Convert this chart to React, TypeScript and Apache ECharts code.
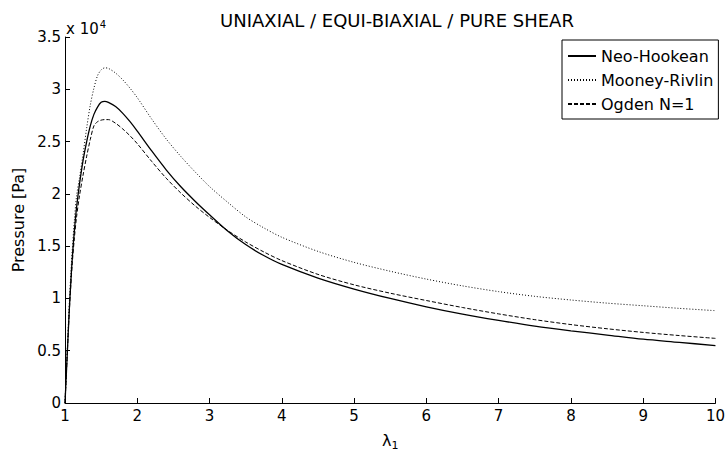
import React, { useEffect, useRef } from "react";
import * as echarts from "echarts";

const lambda = [1, 1.02, 1.04, 1.06, 1.08, 1.1, 1.13, 1.16, 1.2, 1.25, 1.3, 1.35, 1.4, 1.45, 1.5, 1.55, 1.6, 1.7, 1.8, 1.9, 2.0, 2.2, 2.4, 2.6, 2.8, 3.0, 3.25, 3.5, 3.75, 4.0, 4.5, 5.0, 5.5, 6.0, 6.5, 7.0, 7.5, 8.0, 8.5, 9.0, 9.5, 10];

const neoHookean = [0, 3000, 6000, 9000, 11500, 13800, 16500, 18700, 20900, 23200, 25000, 26500, 27600, 28300, 28750, 28850, 28750, 28350, 27700, 26900, 26000, 24100, 22300, 20700, 19300, 18000, 16450, 15150, 14100, 13250, 11950, 10900, 10000, 9200, 8500, 7900, 7350, 6900, 6500, 6100, 5800, 5490];

const mooneyRivlin = [0, 3200, 6400, 9600, 12300, 14600, 17500, 19800, 21500, 23800, 26300, 28500, 30100, 31300, 31850, 32050, 32000, 31550, 30900, 30100, 29200, 27150, 25250, 23600, 22100, 20700, 19200, 17800, 16750, 15850, 14500, 13450, 12600, 11850, 11200, 10650, 10200, 9850, 9550, 9300, 9050, 8830];

const ogden = [0, 3000, 6000, 8800, 11200, 13300, 15800, 17800, 19800, 21800, 23600, 25200, 26500, 26900, 27050, 27100, 27100, 26750, 26200, 25550, 24800, 23100, 21500, 20100, 18850, 17750, 16500, 15400, 14450, 13620, 12300, 11300, 10500, 9800, 9130, 8520, 7970, 7500, 7100, 6750, 6450, 6180];

const seriesNames = ["Neo-Hookean", "Mooney-Rivlin", "Ogden N=1"];
const yTickValues = [0, 5000, 10000, 15000, 20000, 25000, 30000, 35000];

const FONT = "DejaVu Sans";

function pairs(ys: number[]) {
  return lambda.map((x, i) => [x, ys[i]]);
}

export default function App() {
  const ref = useRef<HTMLDivElement>(null);
  useEffect(() => {
    if (!ref.current) return;
    const chart = echarts.init(ref.current, undefined, { renderer: "svg" });
    chart.setOption({
      animation: false,
      backgroundColor: "#ffffff",
      textStyle: { fontFamily: FONT, color: "#000" },
      title: {
        text: "UNIAXIAL / EQUI-BIAXIAL / PURE SHEAR",
        left: 392,
        textAlign: "center",
        top: 6,
        textStyle: { fontFamily: FONT, fontSize: 18, fontWeight: "normal", color: "#000" },
      },
      grid: { left: 65, right: 9, top: 37, bottom: 45, containLabel: false },
      legend: {
        data: seriesNames,
        orient: "vertical",
        left: 562,
        top: 40,
        backgroundColor: "#fff",
        borderColor: "#000",
        borderWidth: 1,
        padding: [8, 5, 7, 5],
        itemWidth: 28,
        itemHeight: 14,
        itemGap: 8,
        itemStyle: { opacity: 0 },
        textStyle: { fontFamily: FONT, fontSize: 16, color: "#000", lineHeight: 14 },
      },
      xAxis: {
        type: "value",
        min: 1,
        max: 10,
        interval: 1,
        name: "{l|λ}{s|1}",
        nameLocation: "middle",
        nameGap: 27,
        nameTextStyle: {
          rich: {
            l: { fontFamily: FONT, fontSize: 16, color: "#000" },
            s: { fontFamily: FONT, fontSize: 11, color: "#000", padding: [10, 0, 0, 0] },
          },
        },
        axisLine: { show: true, lineStyle: { color: "#000", width: 1 } },
        axisTick: { show: true, inside: true, length: 5, lineStyle: { color: "#000" } },
        axisLabel: { margin: 5, fontFamily: FONT, fontSize: 15, color: "#000" },
        splitLine: { show: false },
      },
      yAxis: {
        type: "value",
        min: 0,
        max: 35000,
        interval: 5000,
        name: "Pressure [Pa]",
        nameLocation: "middle",
        nameGap: 33,
        nameTextStyle: { fontFamily: FONT, fontSize: 16, color: "#000" },
        axisLine: { show: true, lineStyle: { color: "#000", width: 1 } },
        axisTick: { show: true, inside: true, length: 5, lineStyle: { color: "#000" } },
        axisLabel: {
          margin: 4,
          fontFamily: FONT,
          fontSize: 15,
          color: "#000",
          formatter: (v: number) => (yTickValues.includes(v) ? String(v / 10000) : ""),
        },
        splitLine: { show: false },
      },
      graphic: [
        {
          type: "text",
          left: 66,
          top: 19,
          style: {
            text: "{a|x 10}{b|4}",
            rich: {
              a: { fontFamily: FONT, fontSize: 15, fill: "#000" },
              b: { fontFamily: FONT, fontSize: 10, fill: "#000", padding: [0, 0, 10, 1] },
            },
          },
        },
      ],
      series: [
        {
          name: seriesNames[0],
          type: "line",
          data: pairs(neoHookean),
          showSymbol: false,
          symbol: "none",
          smooth: 0.3,
          lineStyle: { color: "#000", width: 1.3, type: "solid" },
          itemStyle: { color: "#000" },
        },
        {
          name: seriesNames[1],
          type: "line",
          data: pairs(mooneyRivlin),
          showSymbol: false,
          symbol: "none",
          smooth: 0.3,
          lineStyle: { color: "#000", width: 1, type: [1, 2] },
          itemStyle: { color: "#000" },
        },
        {
          name: seriesNames[2],
          type: "line",
          data: pairs(ogden),
          showSymbol: false,
          symbol: "none",
          smooth: 0.3,
          lineStyle: { color: "#000", width: 1, type: [4, 2] },
          itemStyle: { color: "#000" },
        },
      ],
    });
    return () => chart.dispose();
  }, []);
  return <div ref={ref} style={{ width: 728, height: 456, position: "absolute", left: 0, top: 0 }} />;
}
